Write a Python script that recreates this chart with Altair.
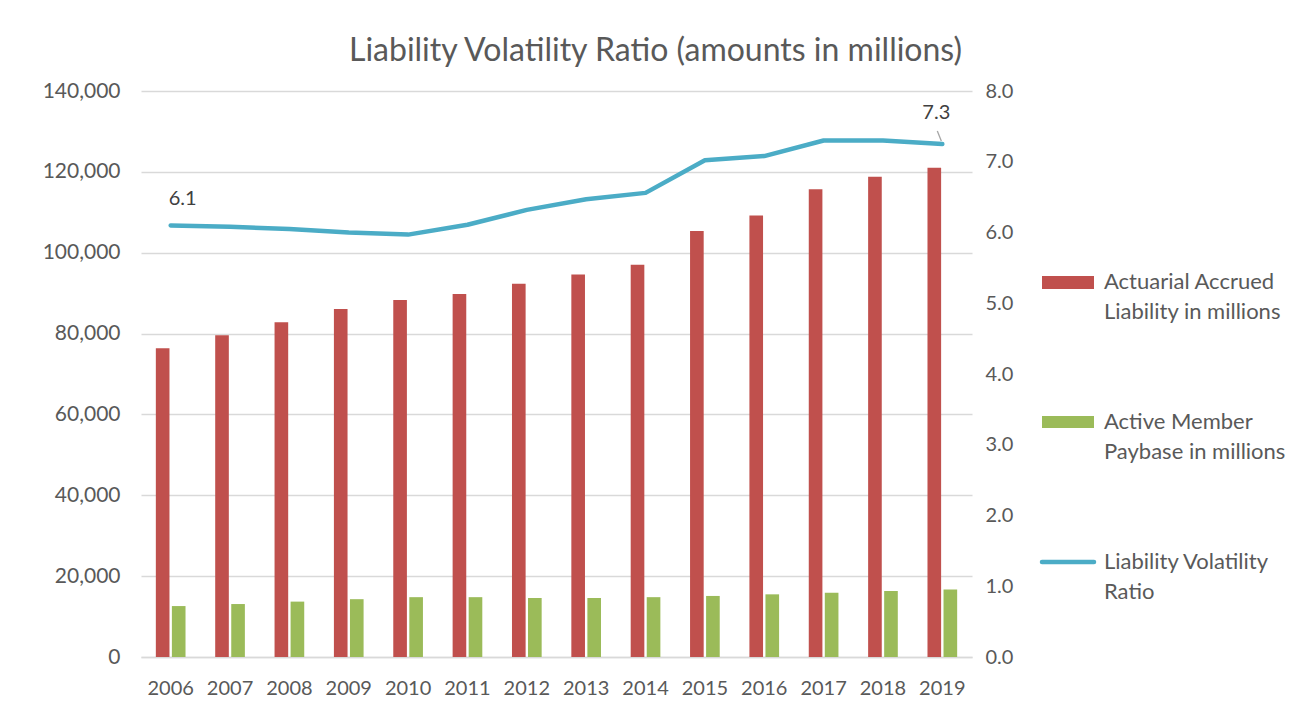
import altair as alt
import pandas as pd

years = [str(y) for y in range(2006, 2020)]
liability = [76400, 79600, 82800, 86100, 88300, 89800, 92300, 94600, 97000,
             105400, 109200, 115700, 118800, 121000]
paybase = [12600, 13100, 13700, 14300, 14800, 14800, 14600, 14600, 14800,
           15100, 15500, 15900, 16300, 16700]
ratio = [6.10, 6.08, 6.05, 6.00, 5.97, 6.11, 6.32, 6.47, 6.56, 7.02, 7.08,
         7.30, 7.30, 7.25]

series = ["Actuarial Accrued Liability in millions",
          "Active Member Paybase in millions",
          "Liability Volatility Ratio"]
legend_text = ["Actuarial Accrued\nLiability in millions",
               "Active Member\nPaybase in millions",
               "Liability Volatility\nRatio"]
colors = ["#C0504D", "#9BBB59", "#4BACC6"]
title_text = "Liability Volatility Ratio (amounts in millions)"

FONT = "Lato"
GREY = "#595959"

bars_df = pd.DataFrame({
    "year": years * 2,
    "series": [series[0]] * len(years) + [series[1]] * len(years),
    "value": liability + paybase,
})
line_df = pd.DataFrame({"year": years, "ratio": ratio})

xenc = alt.X("year:N", sort=years,
             scale=alt.Scale(paddingInner=0.5, paddingOuter=0.25),
             axis=alt.Axis(title=None, labelAngle=0, labelPadding=21,
                           domain=True, domainColor="#D9D9D9", domainWidth=1.3,
                           ticks=False))

bars = alt.Chart(bars_df).mark_bar().encode(
    x=xenc,
    xOffset=alt.XOffset("series:N", sort=series[:2],
                        scale=alt.Scale(domain=series[:2], paddingInner=0.15)),
    y=alt.Y("value:Q", scale=alt.Scale(domain=[0, 140000], nice=False),
            axis=alt.Axis(title=None, orient="left", format=",.0f",
                          values=list(range(0, 140001, 20000)),
                          grid=True, labelPadding=21, labelFontSize=21)),
    color=alt.Color("series:N", scale=alt.Scale(domain=series[:2], range=colors[:2]),
                    legend=None),
)

yratio = alt.Y("ratio:Q", scale=alt.Scale(domain=[0, 8], nice=False),
               axis=alt.Axis(title=None, orient="right", format=".1f",
                             values=[0, 1, 2, 3, 4, 5, 6, 7, 8],
                             grid=False, labelPadding=13))

line = alt.Chart(line_df).mark_line(
    color=colors[2], strokeWidth=4.5, strokeCap="round", strokeJoin="round"
).encode(x=alt.X("year:N", sort=years), y=yratio)

lab_first = alt.Chart(line_df).transform_filter(
    alt.datum.year == years[0]
).mark_text(font=FONT, fontSize=20, color="#404040", dx=12, dy=-26,
            baseline="middle").encode(
    x=alt.X("year:N", sort=years), y=yratio, text=alt.Text("ratio:Q", format=".1f"))

lab_last = alt.Chart(line_df).transform_filter(
    alt.datum.year == years[-1]
).mark_text(font=FONT, fontSize=20, color="#404040", dx=-6, dy=-31,
            baseline="middle").encode(
    x=alt.X("year:N", sort=years), y=yratio, text=alt.Text("ratio:Q", format=".1f"))

leader = alt.Chart(line_df).transform_filter(
    alt.datum.year == years[-1]
).mark_rule(color="#A6A6A6", strokeWidth=1.3, xOffset=-5, yOffset=-13,
            x2Offset=-1, y2Offset=-3).encode(
    x=alt.X("year:N", sort=years), x2="year:N", y=yratio, y2="ratio:Q")

ratio_layer = alt.layer(line, leader, lab_first, lab_last)

# legend (drawn by hand, beside the plot)
def leg_rect(i, y0, y1):
    return alt.Chart(pd.DataFrame({"s": [series[i]]})).mark_rect(color=colors[i]).encode(
        x=alt.value(901), x2=alt.value(953), y=alt.value(y0), y2=alt.value(y1))

def leg_text(i, y):
    return alt.Chart(pd.DataFrame({"t": [legend_text[i]]})).mark_text(
        font=FONT, fontSize=22, color=GREY, align="left", baseline="top",
        lineBreak="\n", lineHeight=30).encode(
        x=alt.value(963), y=alt.value(y), text="t:N")

leg_line = alt.Chart(pd.DataFrame({"s": [series[2]]})).mark_rule(
    color=colors[2], strokeWidth=4.5, strokeCap="round").encode(
    x=alt.value(901), x2=alt.value(953), y=alt.value(471))

legend = alt.layer(
    leg_rect(0, 185, 198), leg_text(0, 181),
    leg_rect(1, 325, 337), leg_text(1, 321),
    leg_line, leg_text(2, 461),
)

chart = alt.layer(bars, ratio_layer, legend).resolve_scale(
    y="independent"
).properties(
    width=831, height=566,
    padding={"left": 133, "top": 83, "right": 315, "bottom": 44},
    autosize=alt.AutoSizeParams(type="none"),
    title=alt.TitleParams(title_text, font=FONT, fontSize=32, color=GREY,
                          fontWeight="normal", anchor="middle", frame="group",
                          dx=99, dy=33, offset=20, baseline="alphabetic"),
).configure_axis(
    labelFont=FONT, labelFontSize=20, labelColor=GREY, ticks=False,
    domain=False, gridColor="#D9D9D9", gridWidth=1.3,
).configure_view(stroke=None)

chart.save("out.html", embed_options={"renderer": "svg", "actions": False})
